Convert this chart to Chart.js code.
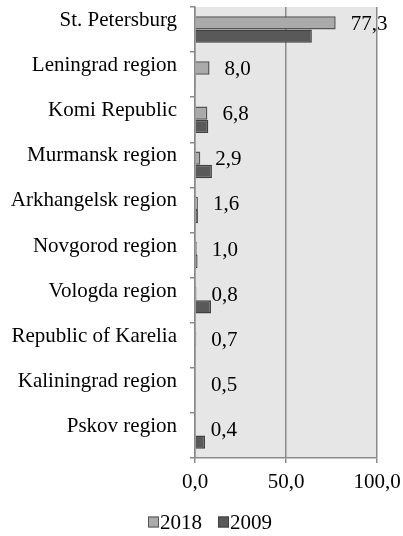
<!DOCTYPE html>
<html>
<head>
<meta charset="utf-8">
<script src="https://cdn.jsdelivr.net/npm/chart.js@4"></script>
<style>
  html, body { margin: 0; padding: 0; background: #fff; }
  #wrap { width: 403px; height: 536px; position: relative; }
</style>
</head>
<body>
<div id="wrap"><canvas id="chart"></canvas></div>
<script>
// данные
const regions = [
  'St. Petersburg', 'Leningrad region', 'Komi Republic', 'Murmansk region',
  'Arkhangelsk region', 'Novgorod region', 'Vologda region',
  'Republic of Karelia', 'Kaliningrad region', 'Pskov region',
];
const values2018 = [77.3, 8.0, 6.8, 2.9, 1.6, 1.0, 0.8, 0.7, 0.5, 0.4];
const values2009 = [64.2, 0.6, 7.3, 9.3, 1.6, 1.4, 8.8, 0.5, 0.4, 5.5];
const seriesNames = ['2018', '2009'];
const xTickValues = [0, 50, 100];
const xTickLabels = ['0,0', '50,0', '100,0'];

const FONT = { family: '"Liberation Serif", "Times New Roman", serif', size: 21 };
const GRID = '#8a8a8a';

Chart.defaults.color = '#000000';
Chart.defaults.font.family = FONT.family;
Chart.defaults.font.size = FONT.size;

const fmt = (v) => v.toFixed(1).replace('.', ',');

// серый фон области построения
const plotBackground = {
  id: 'plotBackground',
  beforeDraw(chart) {
    const { ctx, chartArea: { left, top, width, height } } = chart;
    ctx.save();
    ctx.fillStyle = '#e6e6e6';
    ctx.fillRect(left, top, width, height);
    ctx.restore();
  },
};

// подписи значений 2018 справа от столбцов
const valueLabels = {
  id: 'valueLabels',
  afterDatasetsDraw(chart) {
    const { ctx } = chart;
    const meta = chart.getDatasetMeta(0);
    const yScale = chart.scales.y;
    ctx.save();
    ctx.font = `${FONT.size}px ${FONT.family}`;
    ctx.fillStyle = '#000';
    ctx.textAlign = 'left';
    ctx.textBaseline = 'middle';
    meta.data.forEach((bar, i) => {
      ctx.fillText(fmt(values2018[i]), bar.x + 15, yScale.getPixelForValue(i) - 5);
    });
    ctx.restore();
  },
};

// легенда снизу
const bottomLegend = {
  id: 'bottomLegend',
  afterDraw(chart) {
    const { ctx } = chart;
    const box = 11;
    const y = 522;
    let x = 148;
    ctx.save();
    ctx.font = `${FONT.size}px ${FONT.family}`;
    ctx.textAlign = 'left';
    ctx.textBaseline = 'middle';
    chart.data.datasets.forEach((ds) => {
      ctx.fillStyle = ds.backgroundColor;
      ctx.strokeStyle = ds.borderColor;
      ctx.lineWidth = 1;
      ctx.fillRect(x, y - box / 2, box, box);
      ctx.strokeRect(x + 0.5, y - box / 2 + 0.5, box - 1, box - 1);
      ctx.fillStyle = '#000';
      ctx.fillText(ds.label, x + box + 1, y + 1);
      x += box + 1 + ctx.measureText(ds.label).width + 16;
    });
    ctx.restore();
  },
};

const data = {
  labels: regions,
  datasets: [
    {
      label: seriesNames[0],
      data: values2018,
      backgroundColor: '#aaaaaa',
      borderColor: '#555555',
      borderWidth: 1.5,
    },
    {
      label: seriesNames[1],
      data: values2009,
      backgroundColor: '#595959',
      borderColor: '#404040',
      borderWidth: 1.5,
    },
  ],
};

const chart = new Chart(document.getElementById('chart'), {
  type: 'bar',
  data,
  options: {
    indexAxis: 'y',
    responsive: true,
    maintainAspectRatio: false,
    animation: false,
    layout: { padding: { top: 7, right: 26, bottom: 38, left: 0 } },
    datasets: { bar: { categoryPercentage: 0.59, barPercentage: 1 } },
    plugins: {
      legend: { display: false },
      tooltip: { enabled: false },
    },
    scales: {
      x: {
        min: 0,
        max: 100,
        afterFit: (scale) => {
          scale.height = 40;
          scale.paddingLeft = 0;
          scale.paddingRight = 0;
        },
        afterBuildTicks: (scale) => { scale.ticks = xTickValues.map((v) => ({ value: v })); },
        ticks: {
          callback: (v) => xTickLabels[xTickValues.indexOf(v)],
          maxRotation: 0,
          padding: 7,
          color: '#000',
        },
        grid: { color: GRID, lineWidth: 1.5, tickLength: 5 },
        border: { display: true, color: GRID, width: 1.5 },
      },
      y: {
        afterFit: (scale) => {
          scale.width = 195;
          scale.paddingTop = 0;
          scale.paddingBottom = 0;
        },
        ticks: { padding: 13, labelOffset: -9, color: '#000', autoSkip: false },
        grid: {
          offset: true, drawOnChartArea: false, color: GRID, lineWidth: 1.5, tickLength: 5,
        },
        border: { display: true, color: GRID, width: 1.5 },
      },
    },
  },
  plugins: [plotBackground, valueLabels, bottomLegend],
});
</script>
</body>
</html>
